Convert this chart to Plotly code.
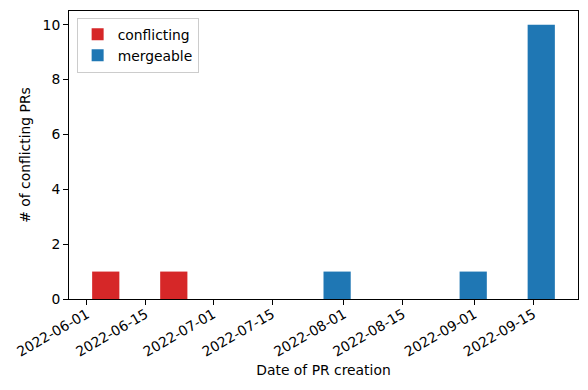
import pandas as pd
import plotly.graph_objects as go

# Histogram bins (7 bins) and counts
bin_start = "2022-05-31 15:36"
bin_width_days = 16.15
n_bins = 7
conflicting_counts = [1, 1, 0, 0, 0, 0, 0]
mergeable_counts = [0, 0, 0, 1, 0, 1, 10]
tick_dates = ["2022-06-01", "2022-06-15", "2022-07-01", "2022-07-15",
              "2022-08-01", "2022-08-15", "2022-09-01", "2022-09-15"]

start = pd.Timestamp(bin_start)
w = pd.Timedelta(days=bin_width_days)
centers = [start + (i + 0.5) * w for i in range(n_bins)]

# matplotlib-like 5% margin around the drawn bars
first_bar = start + 0.1 * w
last_bar = start + (n_bins - 0.1) * w
span = last_bar - first_bar
x_range = [first_bar - 0.05 * span, last_bar + 0.05 * span]

fig = go.Figure()
fig.add_trace(go.Bar(x=centers, y=conflicting_counts, name="conflicting",
                     marker=dict(color="#d62728", line=dict(width=0))))
fig.add_trace(go.Bar(x=centers, y=mergeable_counts, name="mergeable",
                     marker=dict(color="#1f77b4", line=dict(width=0))))

fs = 13.89
font = dict(family="DejaVu Sans", size=fs, color="black")
# the page body has an 8px default margin, so the figure is 8px smaller
fig.update_layout(
    template="none",
    width=580, height=382,
    margin=dict(l=61.3, r=10, t=2.7, b=90.7, autoexpand=False),
    barmode="group", bargap=0.2, bargroupgap=0,
    plot_bgcolor="white", paper_bgcolor="white",
    font=font,
    showlegend=True,
    legend=dict(x=0.015, y=0.977, xanchor="left", yanchor="top",
                bgcolor="rgba(255,255,255,0.8)", bordercolor="#cccccc",
                borderwidth=1, font=dict(family="DejaVu Sans", size=fs)),
    xaxis=dict(
        type="date", range=[x.isoformat() for x in x_range], automargin=False,
        tickmode="array", tickvals=tick_dates, ticktext=tick_dates,
        tickangle=-30, ticks="outside", ticklen=5, tickcolor="black",
        tickfont=dict(size=fs), ticklabelstandoff=-4,
        showline=True, linecolor="black", linewidth=1, mirror=True,
        showgrid=False, zeroline=False,
        title=dict(text="Date of PR creation", standoff=6, font=dict(size=fs)),
    ),
    yaxis=dict(
        range=[0, 10.5], tickmode="array", tickvals=[0, 2, 4, 6, 8, 10],
        automargin=False,
        ticks="outside", ticklen=5, tickcolor="black",
        tickfont=dict(size=fs),
        showline=True, linecolor="black", linewidth=1, mirror=True,
        showgrid=False, zeroline=False,
        title=dict(text="# of conflicting PRs", standoff=8, font=dict(size=fs)),
    ),
)

fig.write_html("out.html")
